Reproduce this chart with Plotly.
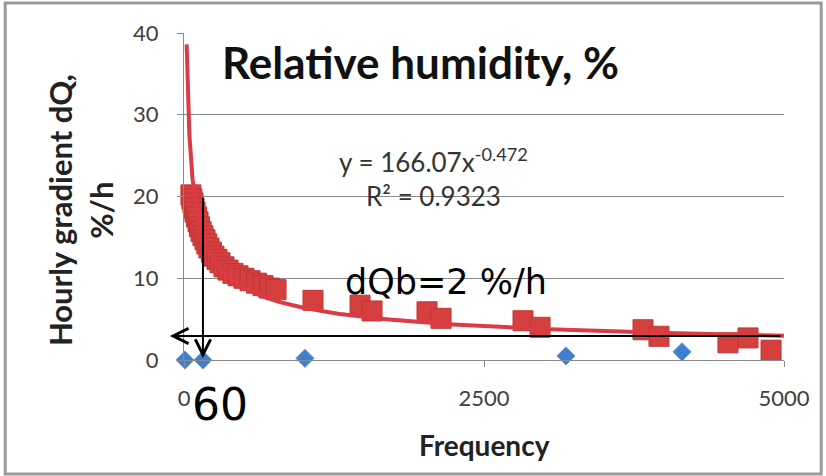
import numpy as np
import plotly.graph_objects as go

# Red series: hourly gradient dQ (%/h) vs frequency
freq_red = [58, 66, 75, 83, 92, 104, 117, 129, 142, 158, 175, 190, 208, 228, 250, 275, 300,
            333, 367, 408, 450, 500, 550, 604, 658, 712, 767,
            1075, 1467, 1567, 2025, 2142, 2825, 2967, 3825, 3958, 4533, 4700, 4892]
dq_red = [20.2, 19.7, 19.2, 18.6, 18.1, 17.5, 16.9, 16.3, 15.7, 15.2, 14.7, 14.2, 13.7, 13.2,
          12.7, 12.3, 11.9, 11.4, 11.0, 10.6, 10.3, 10.0, 9.7, 9.4, 9.1, 8.8, 8.6,
          7.3, 6.7, 6.0, 5.9, 5.1, 4.8, 4.0, 3.7, 2.9, 2.1, 2.7, 1.2]

# Blue series
freq_blue = [8, 158, 1008, 3183, 4150]
dq_blue = [0.0, 0.0, 0.2, 0.5, 1.0]

# Power trendline shown in chart: y = 166.07 x^-0.472
TREND_COEF = 166.07
TREND_EXP = -0.472
TREND_XMIN = 22
TREND_XMAX = 5000

x_ticks = [0, 2500, 5000]
y_ticks = [0, 10, 20, 30, 40]

# Annotation arrows
arrow_v_x = 158
arrow_v_top = 20
arrow_v_tip = 0.25
arrow_h_y = 2.94
arrow_h_start = 4983
arrow_h_tip = -117

xt = np.geomspace(TREND_XMIN, TREND_XMAX, 400)
yt = TREND_COEF * xt ** TREND_EXP

fig = go.Figure()
fig.add_trace(go.Scatter(x=freq_red, y=dq_red, mode="markers",
                         marker=dict(symbol="square", size=20, color="#d5403f",
                                     line=dict(color="#c03535", width=1)),
                         cliponaxis=False, showlegend=False))
fig.add_trace(go.Scatter(x=xt, y=yt, mode="lines",
                         line=dict(color="#dc3a44", width=4),
                         cliponaxis=False, showlegend=False))
fig.add_trace(go.Scatter(x=freq_blue, y=dq_blue, mode="markers",
                         marker=dict(symbol="diamond", size=14, color="#3f7fcf",
                                     line=dict(color="#6a9be0", width=1)),
                         cliponaxis=False, showlegend=False))

grey = "#8a8a8a"
fig.update_layout(
    width=826, height=476,
    margin=dict(l=184, r=42, t=33, b=116),
    paper_bgcolor="white", plot_bgcolor="white",
    font=dict(family="Lato", color="#404040"),
    xaxis=dict(range=[0, 5000], tickvals=x_ticks, ticktext=[str(v) for v in x_ticks],
               showgrid=False, zeroline=False, showline=True, linecolor=grey, linewidth=1,
               ticks="outside", ticklen=6, tickcolor=grey, tickfont=dict(size=22, color="#404040"),
               ticklabelstandoff=13),
    yaxis=dict(range=[0, 40], tickvals=y_ticks, showgrid=True, gridcolor=grey, gridwidth=1,
               zeroline=False, showline=True, linecolor=grey, linewidth=1,
               ticks="outside", ticklen=6, tickcolor=grey, tickfont=dict(size=22, color="#404040"),
               ticklabelstandoff=14),
)

anns = [
    dict(text="<b>Relative humidity, %</b>", x=1967, y=36.5, xref="x", yref="y",
         xanchor="center", yanchor="middle",
         showarrow=False, font=dict(family="Lato", size=44, color="#111111")),
    dict(text="y = 166.07x<sup>-0.472</sup>", x=2083, y=24.4, xref="x", yref="y",
         xanchor="center", yanchor="middle",
         showarrow=False, font=dict(family="Lato", size=26, color="#333333")),
    dict(text="R² = 0.9323", x=2083, y=20.1, xref="x", yref="y",
         xanchor="center", yanchor="middle",
         showarrow=False, font=dict(family="Lato", size=26, color="#333333")),
    dict(text="dQb=2 %/h", x=2183, y=9.5, xref="x", yref="y",
         xanchor="center", yanchor="middle",
         showarrow=False, font=dict(family="DejaVu Sans", size=35, color="black")),
    dict(text="60", x=0.06, y=-0.135, xref="paper", yref="paper",
         xanchor="center", yanchor="middle",
         showarrow=False, font=dict(family="DejaVu Sans", size=44, color="black")),
    dict(text="<b>Frequency</b>", x=0.5, y=-0.26, xref="paper", yref="paper",
         xanchor="center", yanchor="middle",
         showarrow=False, font=dict(family="Lato", size=28, color="#222222")),
    dict(text="<b>Hourly gradient dQ,<br>%/h</b>", x=-0.173, y=0.459, xref="paper", yref="paper",
         xanchor="center", yanchor="middle",
         textangle=-90, showarrow=False, font=dict(family="Lato", size=31, color="#222222")),
    dict(text="", x=arrow_v_x, y=arrow_v_tip, ax=arrow_v_x, ay=arrow_v_top,
         xref="x", yref="y", axref="x", ayref="y", showarrow=True,
         arrowhead=5, arrowsize=1.5, arrowwidth=2, arrowcolor="black", standoff=0),
    dict(text="", x=arrow_h_tip, y=arrow_h_y, ax=arrow_h_start, ay=arrow_h_y,
         xref="x", yref="y", axref="x", ayref="y", showarrow=True,
         arrowhead=5, arrowsize=1.5, arrowwidth=2, arrowcolor="black", standoff=0),
]
fig.update_layout(annotations=anns)

fig.add_shape(type="rect", xref="paper", yref="paper",
              x0=-0.298, x1=1.062, y0=-0.349, y1=1.092,
              line=dict(color="#9a9a9a", width=3))

fig.write_html("out.html")
